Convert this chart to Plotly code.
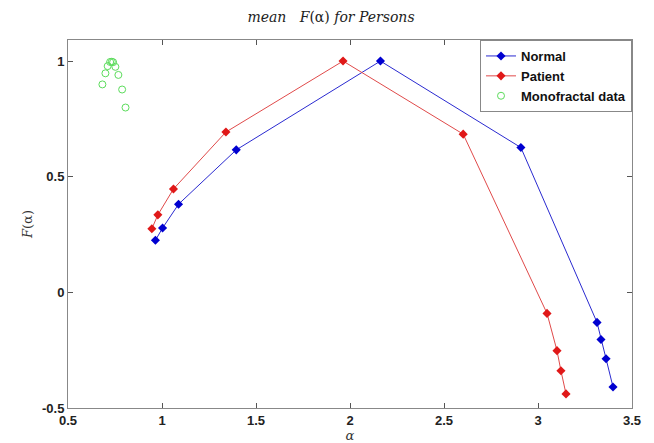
import plotly.graph_objects as go

normal_alpha = [0.965, 1.003, 1.088, 1.395, 2.162, 2.909, 3.314, 3.335, 3.362, 3.399]
normal_f = [0.225, 0.278, 0.381, 0.616, 1.0, 0.626, -0.130, -0.204, -0.287, -0.409]

patient_alpha = [0.946, 0.978, 1.061, 1.340, 1.963, 2.602, 3.048, 3.101, 3.122, 3.149]
patient_f = [0.275, 0.335, 0.447, 0.693, 1.0, 0.684, -0.091, -0.252, -0.339, -0.439]

mono_alpha = [0.683, 0.699, 0.711, 0.724, 0.733, 0.740, 0.752, 0.768, 0.788, 0.806]
mono_f = [0.899, 0.947, 0.978, 0.996, 0.997, 0.995, 0.975, 0.940, 0.877, 0.799]

x_ticks = [0.5, 1, 1.5, 2, 2.5, 3, 3.5]
y_ticks = [-0.5, 0, 0.5, 1]

fig = go.Figure()
fig.add_trace(go.Scatter(x=normal_alpha, y=normal_f, mode="lines+markers", name="<b>Normal</b>",
                         line=dict(color="#2a2ad0", width=1),
                         marker=dict(symbol="diamond", size=7, color="#0000d0")))
fig.add_trace(go.Scatter(x=patient_alpha, y=patient_f, mode="lines+markers", name="<b>Patient</b>",
                         line=dict(color="#e04a4a", width=1),
                         marker=dict(symbol="diamond", size=7, color="#e01818")))
fig.add_trace(go.Scatter(x=mono_alpha, y=mono_f, mode="markers", name="<b>Monofractal data</b>",
                         marker=dict(symbol="circle-open", size=7, color="#5cdc5c", line=dict(width=1))))

axis_common = dict(showline=True, linecolor="#888888", linewidth=1, mirror="ticks",
                   ticks="inside", ticklen=5, tickcolor="#555555", showgrid=False, zeroline=False,
                   automargin=False,
                   tickfont=dict(family="Arial, Liberation Sans", size=13, color="#222222"))

fig.update_xaxes(range=[0.5, 3.5], tickvals=x_ticks, ticktext=[f"<b>{v:g}</b>" for v in x_ticks],
                 title=dict(text="<i>α</i>", font=dict(family="DejaVu Serif", size=13, color="#333333"), standoff=16),
                 **axis_common)
fig.update_yaxes(range=[-0.5, 1.091], tickvals=y_ticks, ticktext=[f"<b>{v:g}</b>" for v in y_ticks],
                 title=dict(text="<i>F</i>(α)", font=dict(family="DejaVu Serif", size=13, color="#333333"), standoff=6),
                 **axis_common)

fig.update_layout(
    width=646, height=435,
    margin=dict(l=60, r=22, t=32, b=35),
    paper_bgcolor="white", plot_bgcolor="white",
    title=dict(text="<i>mean   F</i>(α) <i>for Persons</i>", x=0.5, xanchor="center",
               y=1 - 9 / 435, yanchor="middle", yref="container",
               font=dict(family="DejaVu Serif", size=14, color="#222222")),
    legend=dict(x=1, y=1, xanchor="right", yanchor="top", bgcolor="white",
                bordercolor="#888888", borderwidth=1, tracegroupgap=0, itemwidth=30,
                font=dict(family="Arial, Liberation Sans", size=13, color="#111111")),
    showlegend=True,
)

fig.write_html("out.html")
